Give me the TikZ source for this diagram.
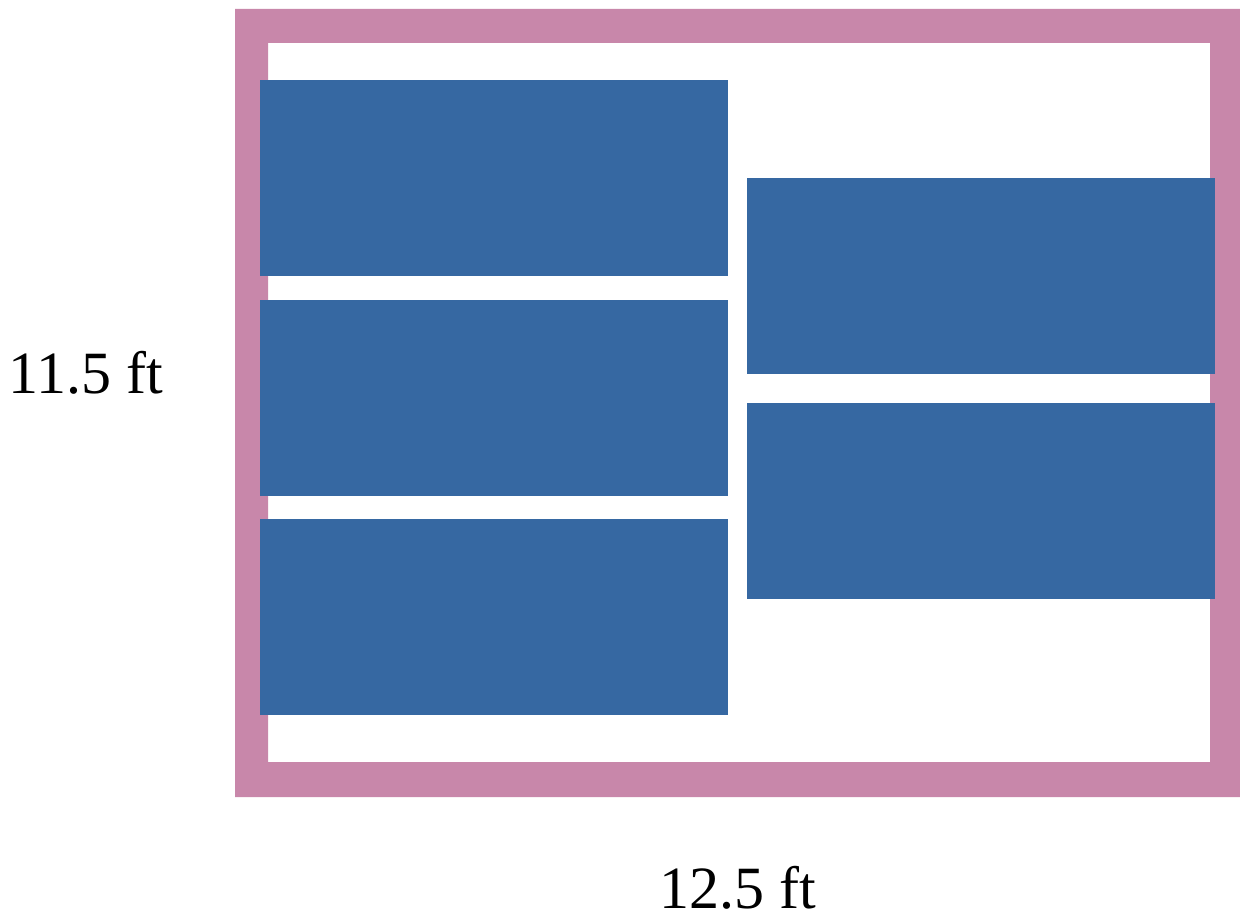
\documentclass[tikz,border=0pt]{standalone}
\usepackage{fontspec}
\setmainfont{Liberation Serif}
\definecolor{wallpink}{RGB}{200,135,170}
\definecolor{bedblue}{RGB}{54,104,162}
\begin{document}
\begin{tikzpicture}[x=1pt,y=-1pt,
    wall/.style={fill=wallpink,even odd rule},
    bed/.style={fill=bedblue},
    dim/.style={font=\fontsize{60}{72}\selectfont,inner sep=0pt}]
  \useasboundingbox (0,0) rectangle (1240,915);
  \fill[wall] (235,9) rectangle (1240,797) (268,43) rectangle (1210,762);
  \fill[bed] (260,80) rectangle +(468,196);
  \fill[bed] (260,300) rectangle +(468,196);
  \fill[bed] (260,519) rectangle +(468,196);
  \fill[bed] (747,178) rectangle +(468,196);
  \fill[bed] (747,403) rectangle +(468,196);
  \node[dim] (height) at (86,373) {11.5 ft};
  \node[dim] (width) at (738,888) {12.5 ft};
\end{tikzpicture}
\end{document}
